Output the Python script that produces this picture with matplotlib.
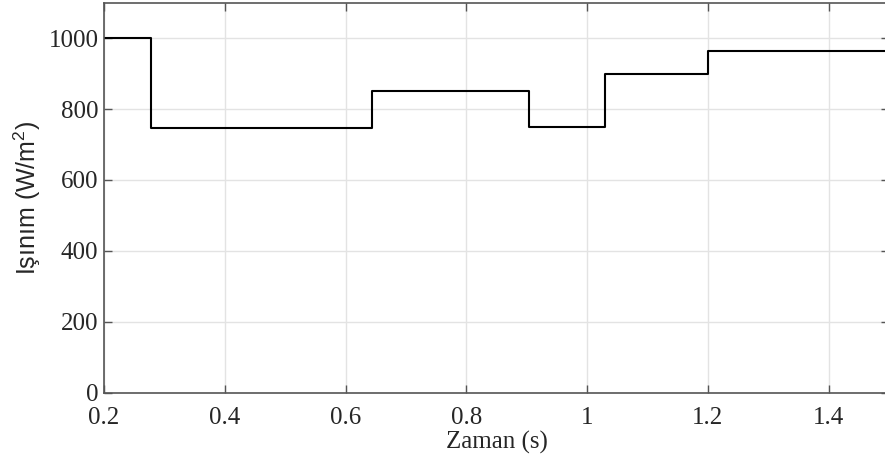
import matplotlib
matplotlib.use('Agg')
import matplotlib.pyplot as plt

# step times (s) and irradiance levels (W/m^2)
zaman = [0.2, 0.278, 0.644, 0.904, 1.03, 1.2, 1.5]
isinim = [1000, 747, 850, 750, 900, 963, 963]

xticks = [0.2, 0.4, 0.6, 0.8, 1.0, 1.2, 1.4]
xticklabels = ['0.2', '0.4', '0.6', '0.8', '1', '1.2', '1.4']
yticks = [0, 200, 400, 600, 800, 1000]

serif = ['Liberation Serif', 'DejaVu Serif']
sans = ['Liberation Sans', 'DejaVu Sans']
plt.rcParams['mathtext.fontset'] = 'custom'
plt.rcParams['mathtext.rm'] = 'Liberation Sans'

fig = plt.figure(figsize=(8.85, 4.65), dpi=100)
ax = fig.add_axes([104 / 885, 72.3 / 465, 785 / 885, 390 / 465])

ax.step(zaman, isinim, where='post', color='k', linewidth=1.5)

ax.set_xlim(0.2, 1.5)
ax.set_ylim(0, 1100)
ax.set_xticks(xticks)
ax.set_xticklabels(xticklabels, family=serif, fontsize=18, color='#262626')
ax.set_yticks(yticks)
ax.set_yticklabels([str(v) for v in yticks], family=serif, fontsize=18, color='#262626')

ax.grid(True, color='#e3e3e3', linewidth=1)
ax.set_axisbelow(True)
ax.tick_params(direction='in', top=True, right=True, length=6, width=1, colors='#555555')
ax.tick_params(axis='x', pad=10)
ax.tick_params(axis='y', pad=4)
for lab in ax.get_xticklabels() + ax.get_yticklabels():
    lab.set_color('#262626')
for s in ax.spines.values():
    s.set_color('#555555')
    s.set_linewidth(1.2)

ax.set_xlabel('Zaman (s)', family=serif, fontsize=18, color='#262626', labelpad=2)
ax.set_ylabel('Işınım (W/m$^2$)', family=sans, fontsize=18, color='#262626', labelpad=4)

fig.savefig('out.png', dpi=100)
